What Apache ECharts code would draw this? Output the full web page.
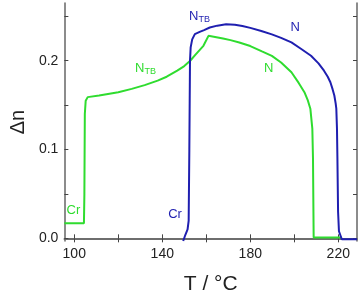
<!DOCTYPE html>
<html><head><meta charset="utf-8">
<script src="https://cdn.jsdelivr.net/npm/echarts@6/dist/echarts.min.js"></script>
<style>html,body{margin:0;padding:0;background:#fff}#c{width:360px;height:300px}</style>
</head><body><div id="c"></div>
<script>
const xTicks = [100, 120, 140, 160, 180, 200, 220];
const xLabels = [100, 140, 180, 220];
const yTicks = [0, 0.05, 0.1, 0.15, 0.2, 0.25];
const yLabels = [0, 0.1, 0.2];

const greenT = [95.5, 104.4, 104.6, 104.8, 105.2, 106.1, 111.3, 120, 126.1, 132, 137.9, 142, 146.8, 150, 152.7, 155, 158.7, 161, 164, 167.6, 171, 175, 180, 185.3, 189.8, 194, 198.7, 202, 204.6, 206.2, 207.3, 208.2, 208.5, 208.7, 208.8, 221.6];
const greenDn = [0.017, 0.017, 0.05, 0.14, 0.155, 0.159, 0.1608, 0.1645, 0.1683, 0.1725, 0.1776, 0.182, 0.1888, 0.194, 0.2, 0.2065, 0.2168, 0.228, 0.2268, 0.2251, 0.2232, 0.2206, 0.2165, 0.2105, 0.2055, 0.198, 0.187, 0.175, 0.1646, 0.155, 0.146, 0.1235, 0.09, 0.03, 0.001, 0.001];

const blueT = [149.5, 150.5, 151.5, 152.0, 152.3, 152.6, 152.9, 153.6, 154.8, 157, 159, 161.6, 165, 169, 173, 176.4, 180, 185, 189.8, 194, 198.7, 203, 207.6, 211, 213.5, 215.2, 216.4, 217.4, 218.2, 218.8, 219.1, 219.4, 219.6, 219.9, 220.3, 221.6, 228.5];
const blueDn = [-0.003, 0.004, 0.01, 0.02, 0.1, 0.2, 0.215, 0.224, 0.23, 0.2325, 0.2345, 0.2374, 0.2395, 0.241, 0.2405, 0.2392, 0.237, 0.2335, 0.2297, 0.2257, 0.2206, 0.2135, 0.2056, 0.197, 0.1888, 0.182, 0.1758, 0.168, 0.1608, 0.152, 0.146, 0.1235, 0.09, 0.03, 0.008, -0.001, -0.001];

const greenLabels = [['Cr', 99.6, 0.031], ['N_TB', 132.4, 0.191], ['N', 188.4, 0.191]];
const blueLabels = [['Cr', 145.8, 0.027], ['N_TB', 156.9, 0.250], ['N', 200.4, 0.2377]];

const GREEN = '#2fdc2f', BLUE = '#1f1fb0';
const zip = (a, b) => a.map((v, i) => [v, b[i]]);
function lblData(arr, color) {
  return arr.map(([t, x, y]) => ({
    coord: [x, y],
    label: {
      show: true, position: 'inside', color: color,
      formatter: t === 'N_TB' ? '{m|N}{s|TB}' : '{m|' + t + '}',
      rich: {
        m: { fontSize: 13, color: color, fontFamily: 'Liberation Sans' },
        s: { fontSize: 9, color: color, fontFamily: 'Liberation Sans', verticalAlign: 'bottom', padding: [6, 0, 0, 0] }
      }
    }
  }));
}
const axisLine = { show: true, lineStyle: { color: '#666', width: 1.5 } };
const tickStyle = { lineStyle: { color: '#444', width: 1 } };
const chart = echarts.init(document.getElementById('c'));
chart.setOption({
  animation: false,
  grid: { left: 58, right: 3, top: 3, bottom: 57 },
  xAxis: [
    { type: 'value', min: 95.5, max: 228.5, axisLine,
      axisTick: { show: true, inside: true, length: 4, customValues: xTicks, ...tickStyle },
      axisLabel: { customValues: xLabels, fontSize: 14, color: '#222', fontFamily: 'Liberation Sans', margin: 6 },
      splitLine: { show: false },
      name: 'T / °C', nameLocation: 'middle', nameGap: 33,
      nameTextStyle: { fontSize: 21, color: '#222', fontFamily: 'Liberation Sans' } },
    { type: 'value', position: 'top', min: 95.5, max: 228.5, axisLine,
      axisTick: { show: true, inside: true, length: 4, customValues: xTicks, ...tickStyle },
      axisLabel: { show: false }, splitLine: { show: false } }
  ],
  yAxis: [
    { type: 'value', min: -0.003, max: 0.265, axisLine,
      axisTick: { show: true, inside: true, length: 4, customValues: yTicks, ...tickStyle },
      axisLabel: { customValues: yLabels, fontSize: 14, color: '#222', fontFamily: 'Liberation Sans', margin: 6,
        formatter: v => v.toFixed(1) },
      splitLine: { show: false },
      name: 'Δn', nameLocation: 'middle', nameGap: 33, nameRotate: 90,
      nameTextStyle: { fontSize: 20, color: '#222', fontFamily: 'Liberation Sans' } },
    { type: 'value', position: 'right', min: -0.003, max: 0.265, axisLine,
      axisTick: { show: true, inside: true, length: 4, customValues: yTicks, ...tickStyle },
      axisLabel: { show: false }, splitLine: { show: false } }
  ],
  series: [
    { type: 'line', data: zip(greenT, greenDn), showSymbol: false, symbol: 'none',
      lineStyle: { color: GREEN, width: 2 }, itemStyle: { color: GREEN }, z: 2,
      markPoint: { symbol: 'circle', symbolSize: 0, data: lblData(greenLabels, GREEN) } },
    { type: 'line', data: zip(blueT, blueDn), showSymbol: false, symbol: 'none',
      lineStyle: { color: BLUE, width: 2 }, itemStyle: { color: BLUE }, z: 3,
      markPoint: { symbol: 'circle', symbolSize: 0, data: lblData(blueLabels, BLUE) } }
  ]
});
</script></body></html>
